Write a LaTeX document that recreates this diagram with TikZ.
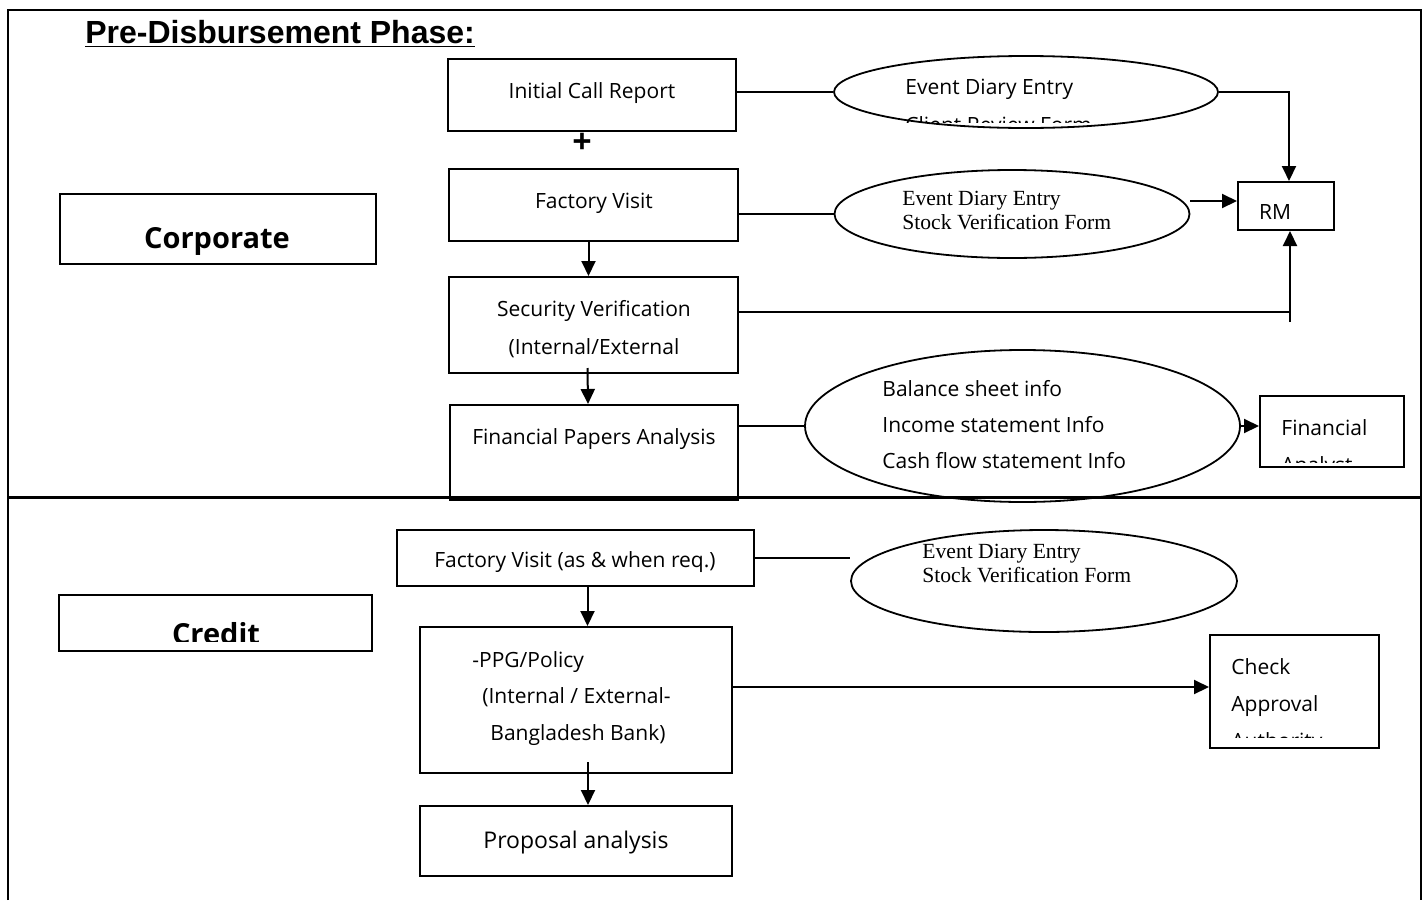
\documentclass[tikz,border=0pt]{standalone}
\usepackage{fontspec}
\setmainfont{Open Sans}
\newfontfamily\timesf{Liberation Serif}
\newfontfamily\arialf{Liberation Sans}
\usetikzlibrary{arrows.meta,shapes.geometric}

\tikzset{
    box/.style={draw, line width=1pt, inner sep=0pt},
    oval/.style={draw, ellipse, line width=0.9pt, inner sep=0pt},
    txt/.style={inner sep=0pt, anchor=base west, font=\fontsize{10.5}{12}\selectfont},
    ctxt/.style={inner sep=0pt, anchor=base, font=\fontsize{10.5}{12}\selectfont},
    serif/.style={inner sep=0pt, anchor=base west, font=\timesf\fontsize{10.8}{12}\selectfont},
    link/.style={line width=1pt},
    arr/.style={line width=1pt, -{Triangle[length=7.5pt,width=7pt]}}
}

\begin{document}
\begin{tikzpicture}[x=0.5pt,y=-0.5pt]
                \useasboundingbox (0,0) rectangle (1424,900);

                % Frame and divider
                \draw[line width=1pt] (8,900) -- (8,10) -- (1421,10) -- (1421,900);
                \draw[line width=1.5pt] (8,497) -- (1421,497);

                % Title
                \node[inner sep=0pt, anchor=base west, font=\arialf\bfseries\fontsize{16}{18}\selectfont] (title) at (85,43) {\underline{Pre-Disbursement Phase:}};

                % Corporate section
                \node[box, minimum width=158pt, minimum height=35pt] (corp) at (218,229) {};
                \node[ctxt, font=\bfseries\fontsize{14.5}{16}\selectfont] (corptxt) at (217,248) {Corporate};

                \node[box, minimum width=144pt, minimum height=36pt] (icr) at (592,95) {};
                \node[ctxt] (icrtxt) at (592,98) {Initial Call Report};
                \node[inner sep=0pt, font=\bfseries\fontsize{17}{18}\selectfont] (plus) at (582,143) {+};

                \node[box, minimum width=144.5pt, minimum height=36pt] (fv) at (593.5,205) {};
                \node[ctxt] (fvtxt) at (594,208) {Factory Visit};

                \node[box, minimum width=144.5pt, minimum height=48pt] (sv) at (593.5,325) {};
                \node[ctxt] (svtxt1) at (594,316) {Security Verification};
                \node[ctxt] (svtxt2) at (594,354) {(Internal/External};

                \node[box, minimum width=144pt, minimum height=47.5pt] (fpa) at (594,452.5) {};
                \node[ctxt] (fpatxt) at (594,444) {Financial Papers Analysis};

                % Ellipses (corporate)
                \node[oval, minimum width=192pt, minimum height=36pt] (eone) at (1026,92) {};
                \node[txt] (eonea) at (905,94) {Event Diary Entry};
                \begin{scope}
                    \clip (880,60) rectangle (1180,122);
                    \node[txt] (eoneb) at (905,132) {Client Review Form};
                \end{scope}

                \node[oval, minimum width=177.5pt, minimum height=44pt] (etwo) at (1012,214) {};
                \node[serif] (etwoa) at (902,205) {Event Diary Entry};
                \node[serif] (etwob) at (902,229) {Stock Verification Form};

                \node[oval, minimum width=217.5pt, minimum height=76pt] (ethree) at (1022.5,426) {};
                \node[txt] (ethreea) at (882,396) {Balance sheet info};
                \node[txt] (ethreeb) at (882,432) {Income statement Info};
                \node[txt] (ethreec) at (882,468) {Cash flow statement Info};

                % RM and Financial Analyst
                \node[box, minimum width=48pt, minimum height=24pt] (rm) at (1286,206) {};
                \node[ctxt] (rmtxt) at (1275,219) {RM};

                \node[box, minimum width=72pt, minimum height=35.5pt] (fa) at (1332,431.5) {};
                \node[txt] (fatxta) at (1281,435) {Financial};
                \begin{scope}
                    \clip (1262,440) rectangle (1400,462);
                    \node[txt] (fatxtb) at (1281,472) {Analyst};
                \end{scope}

                % Connectors (corporate)
                \draw[link] (eone.west -| icr.east) -- (eone.west);
                \draw[arr] (eone.east) -| ([xshift=1.5pt]rm.north);
                \draw[link] (etwo.west -| fv.east) -- (etwo.west);
                \draw[arr] ([yshift=2.5pt]etwo.east |- rm.west) -- ([yshift=2.5pt]rm.west);
                \coordinate (svend) at (1290,312);
                \coordinate (rmtail) at (1290,322);
                \draw[link] (svend -| sv.east) -- (svend);
                \draw[arr] (rmtail) -- (rmtail |- rm.south);
                \draw[link] (ethree.west -| fpa.east) -- (ethree.west);
                \draw[arr] (ethree.east) -- (ethree.east -| fa.west);
                \draw[arr] ([xshift=-2.5pt]fv.south) -- ([xshift=-2.5pt]sv.north);
                \draw[arr] ([xshift=-3pt,yshift=3pt]sv.south) -- ([xshift=-3pt]fpa.north);

                % Credit section
                \node[box, minimum width=156.5pt, minimum height=28pt] (cred) at (215.5,623) {};
                \begin{scope}
                    \clip (62,598) rectangle (370,641);
                    \node[ctxt, font=\bfseries\fontsize{14.5}{16}\selectfont] (credtxt) at (216,644) {Credit};
                \end{scope}

                \node[box, minimum width=178.5pt, minimum height=28pt] (fvr) at (575.5,558) {};
                \node[ctxt] (fvrtxt) at (575,567) {Factory Visit (as \& when req.)};

                \node[oval, minimum width=193pt, minimum height=51pt] (efour) at (1044,581) {};
                \node[serif] (efoura) at (922,558) {Event Diary Entry};
                \node[serif] (efourb) at (922,582) {Stock Verification Form};

                \node[box, minimum width=156pt, minimum height=73pt] (ppg) at (576,700) {};
                \node[txt] (ppga) at (472,667) {-PPG/Policy};
                \node[txt] (ppgb) at (482,703) {(Internal / External-};
                \node[txt] (ppgc) at (490,740) {Bangladesh Bank)};

                \node[box, minimum width=156pt, minimum height=35pt] (pa) at (576,841) {};
                \node[ctxt, font=\fontsize{11.5}{13}\selectfont] (patxt) at (576,848) {Proposal analysis};

                \node[box, minimum width=84.5pt, minimum height=56.5pt] (caa) at (1294.5,691.5) {};
                \node[txt] (caaa) at (1231,674) {Check};
                \node[txt] (caab) at (1231,711) {Approval};
                \begin{scope}
                    \clip (1212,715) rectangle (1376,737);
                    \node[txt] (caac) at (1231,748) {Authority};
                \end{scope}

                % Connectors (credit)
                \draw[link] (fvr.east) -- (fvr.east -| efour.west);
                \draw[arr] ([xshift=6pt]fvr.south) -- ([xshift=6pt]fvr.south |- ppg.north);
                \draw[arr] ([xshift=6pt,yshift=6pt]ppg.south) -- ([xshift=6pt]ppg.south |- pa.north);
                \coordinate (ppgout) at (732,687);
                \draw[arr] (ppgout) -- (ppgout -| caa.west);
            \end{tikzpicture}
\end{document}
